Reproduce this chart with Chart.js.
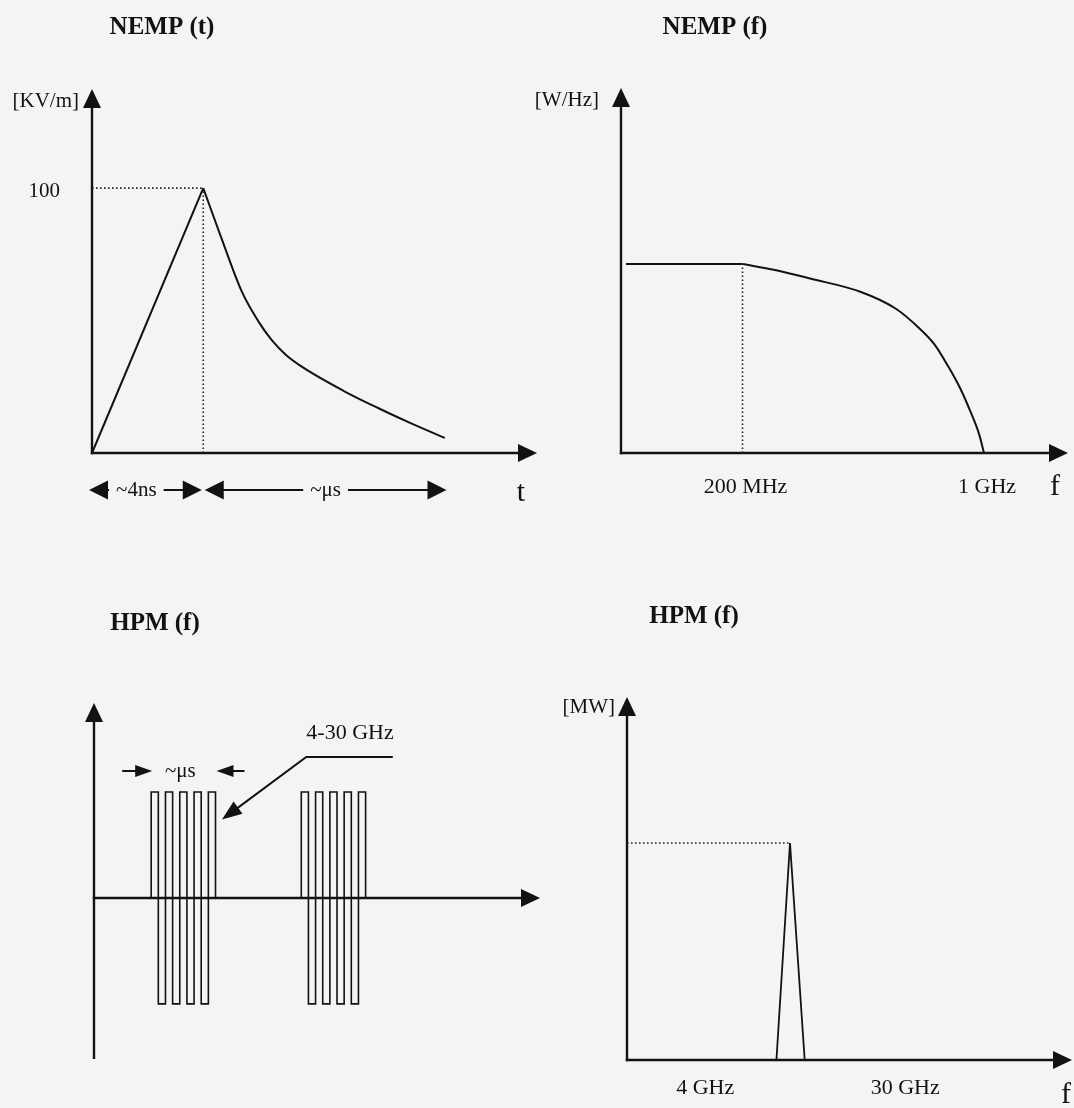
<!DOCTYPE html>
<html><head><meta charset="utf-8">
<script src="https://cdn.jsdelivr.net/npm/chart.js@4.4.1/dist/chart.umd.min.js"></script>
<style>
html,body{margin:0;padding:0;background:#f3f4f3;}
#wrap{position:relative;width:1074px;height:1108px;overflow:hidden;background:#f3f4f3;}
canvas{position:absolute;left:0;top:0;}
</style></head><body><div id="wrap">
<canvas id="c1" width="1074" height="1108"></canvas>
<canvas id="c2" width="1074" height="1108"></canvas>
<canvas id="c3" width="1074" height="1108"></canvas>
<canvas id="c4" width="1074" height="1108"></canvas>
</div>
<script>
// ===== DATA =====
// NEMP (t): field strength [kV/m] vs time (schematic units)
const nempTimeRise = [0, 25];
const nempFieldRise = [0, 100];
const nempTimeDecay = [25, 29, 33.7, 37.5, 40.4, 43.6, 47.4, 56.6, 64.5, 72.1, 79.3];
const nempFieldDecay = [100, 81.5, 60.8, 49.4, 42.6, 37, 32.3, 23.4, 16.8, 10.9, 5.7];
const nempTTicks = [100];
const nempTTickLabels = ['100'];
const nempTSpans = [[0, 25], [25, 80]];
const nempTSpanLabels = ['~4ns', '~\u03BCs'];

// NEMP (f): spectral density [W/Hz] vs frequency [MHz]
const nempFreqFlat = [92, 200];
const nempPsdFlat = [100, 100];
const nempFreqRoll = [200, 248.3, 313.7, 440.5, 556, 652.8, 721.2, 786.7, 852.3, 917, 967.2, 1000];
const nempPsdRoll = [100, 96.8, 92.3, 85.2, 76.3, 65.6, 57.1, 46, 34.4, 21.2, 10.1, 0];
const nempFTicks = [200, 1000];
const nempFTickLabels = ['200 MHz', '1 GHz'];

// HPM waveform: two bursts of alternating half-cycles
const hpmBurstStarts = [8, 29];
const hpmBurstLevels = [1, -1, 1, -1, 1, -1, 1, -1, 1];
const hpmBandLabel = '4-30 GHz';
const hpmPulseLabel = '~\u03BCs';

// HPM (f): power [MW] vs frequency [GHz]
const hpmFreq = [8.2, 9.4, 10.9];
const hpmPower = [0, 100, 0];
const hpmFTicks = [4, 30];
const hpmFTickLabels = ['4 GHz', '30 GHz'];

// ===== RENDERING =====
const W = 1074, H = 1108;
const FONT = "'Liberation Serif','Times New Roman',Times,serif";
const INK = '#121212';
const pts = (xs, ys) => xs.map((x, i) => ({x, y: ys[i]}));

function line(data, extra) {
  return Object.assign({data, borderColor: INK, borderWidth: 2, pointRadius: 0, fill: false,
    tension: 0, clip: false, borderJoinStyle: 'miter', borderCapStyle: 'butt'}, extra || {});
}
const dotted = {borderWidth: 1.6, borderDash: [1.6, 2.4], borderColor: '#222'};

function head(ctx, tx, ty, dx, dy, len, half) {
  const n = Math.hypot(dx, dy), ux = dx / n, uy = dy / n;
  const bx = tx - ux * len, by = ty - uy * len;
  ctx.beginPath(); ctx.moveTo(tx, ty);
  ctx.lineTo(bx - uy * half, by + ux * half);
  ctx.lineTo(bx + uy * half, by - ux * half);
  ctx.closePath(); ctx.fill();
}
function seg(ctx, x1, y1, x2, y2, w) {
  ctx.lineWidth = w || 2; ctx.beginPath(); ctx.moveTo(x1, y1); ctx.lineTo(x2, y2); ctx.stroke();
}
function txt(ctx, s, x, y, size, align, bold) {
  ctx.font = (bold ? 'bold ' : '') + size + 'px ' + FONT;
  ctx.textAlign = align || 'center'; ctx.textBaseline = 'middle'; ctx.fillStyle = INK;
  ctx.fillText(s, x, y);
}
function axes(chart, yAxisToBottom) {
  const {ctx, chartArea: a, scales: {y}} = chart;
  const x0 = a.left, y0 = Math.min(y.getPixelForValue(0), a.bottom);
  ctx.save(); ctx.strokeStyle = INK; ctx.fillStyle = INK;
  seg(ctx, x0, yAxisToBottom ? a.bottom : y0 + 1.2, x0, a.top + 12, 2.4);
  head(ctx, x0, a.top, 0, -1, 19, 9);
  seg(ctx, x0 - 1.2, y0, a.right - 12, y0, 2.4);
  head(ctx, a.right, y0, 1, 0, 19, 9);
  ctx.restore();
}

function makeChart(id, area, xs, ys, datasets, draw, yAxisToBottom) {
  return new Chart(document.getElementById(id), {
    type: 'line',
    data: {datasets},
    options: {
      responsive: false, animation: false, devicePixelRatio: 1, events: [],
      layout: {padding: {left: area[0], top: area[1], right: W - area[2], bottom: H - area[3]}},
      plugins: {legend: {display: false}, tooltip: {enabled: false}, title: {display: false}},
      scales: {
        x: Object.assign({type: 'linear', display: false}, xs),
        y: Object.assign({type: 'linear', display: false}, ys)
      }
    },
    plugins: [{
      id: 'decor',
      beforeDatasetsDraw(chart) { axes(chart, yAxisToBottom); },
      afterDraw(chart) {
        const {ctx} = chart; ctx.save(); ctx.strokeStyle = INK; ctx.fillStyle = INK;
        draw(chart); ctx.restore();
      }
    }]
  });
}

// ---- Panel 1: NEMP (t)
makeChart('c1', [92, 89, 537, 453], {min: 0, max: 100}, {min: 0, max: 137.4}, [
  line([{x: 0, y: nempFieldRise[1]}, {x: nempTimeRise[1], y: nempFieldRise[1]}], dotted),
  line([{x: nempTimeRise[1], y: 0}, {x: nempTimeRise[1], y: nempFieldRise[1]}], dotted),
  line(pts(nempTimeRise, nempFieldRise)),
  line(pts(nempTimeDecay, nempFieldDecay), {cubicInterpolationMode: 'monotone'})
], (chart) => {
  const {ctx, chartArea: a, scales: {x, y}} = chart;
  txt(ctx, 'NEMP (t)', 162, 28, 25, 'center', true);
  txt(ctx, '[KV/m]', a.left - 13, 101, 21, 'right');
  nempTTicks.forEach((v, i) => txt(ctx, nempTTickLabels[i], a.left - 32, y.getPixelForValue(v) + 3, 21, 'right'));
  txt(ctx, 't', 521, 493, 30);
  const sy = a.bottom + 37, shifts = [-9, 0];
  nempTSpans.forEach(([s, e], i) => {
    const ps = x.getPixelForValue(s) + (i === 0 ? -3 : 1.5), pe = x.getPixelForValue(e) - 1.5;
    head(ctx, ps, sy, -1, 0, 19, 9.5);
    head(ctx, pe, sy, 1, 0, 19, 9.5);
    ctx.font = '21px ' + FONT;
    const tw = ctx.measureText(nempTSpanLabels[i]).width;
    const cx = (ps + pe) / 2 + shifts[i];
    txt(ctx, nempTSpanLabels[i], cx, sy, 21);
    if (cx - tw / 2 - 7 > ps + 18) seg(ctx, ps + 18, sy, cx - tw / 2 - 7, sy, 2);
    if (pe - 18 > cx + tw / 2 + 7) seg(ctx, cx + tw / 2 + 7, sy, pe - 18, sy, 2);
  });
});

// ---- Panel 2: NEMP (f)
makeChart('c2', [621, 88, 1068, 453], {type: 'logarithmic', min: 89, max: 1750}, {min: 0, max: 193.1}, [
  line([{x: nempFreqFlat[1], y: 0}, {x: nempFreqFlat[1], y: nempPsdFlat[1]}], dotted),
  line(pts(nempFreqFlat, nempPsdFlat)),
  line(pts(nempFreqRoll, nempPsdRoll), {cubicInterpolationMode: 'monotone'})
], (chart) => {
  const {ctx, chartArea: a, scales: {x}} = chart;
  txt(ctx, 'NEMP (f)', 715, 28, 25, 'center', true);
  txt(ctx, '[W/Hz]', a.left - 22, 100, 21, 'right');
  nempFTicks.forEach((v, i) => txt(ctx, nempFTickLabels[i], x.getPixelForValue(v) + 3, a.bottom + 34, 22));
  txt(ctx, 'f', 1055, 487, 30);
});

// ---- Panel 3: HPM waveform
function burst(start) {
  const p = [{x: start, y: 0}];
  hpmBurstLevels.forEach((lv, i) => { p.push({x: start + i, y: lv}); p.push({x: start + i + 1, y: lv}); });
  p.push({x: start + hpmBurstLevels.length, y: 0});
  return p;
}
makeChart('c3', [94, 703, 540, 1059], {min: 0, max: 62.4}, {min: -1.52, max: 1.84},
  hpmBurstStarts.map(s => line(burst(s), {borderWidth: 1.6})),
  (chart) => {
    const {ctx, scales: {x, y}} = chart;
    txt(ctx, 'HPM (f)', 155, 624, 25, 'center', true);
    // pulse-length marker over first burst
    const b0 = x.getPixelForValue(hpmBurstStarts[0]), b1 = x.getPixelForValue(hpmBurstStarts[0] + hpmBurstLevels.length);
    const my = 771;
    seg(ctx, b0 - 29, my, b0 - 14, my, 2); head(ctx, b0 + 1, my, 1, 0, 17, 6);
    seg(ctx, b1 + 14, my, b1 + 29, my, 2); head(ctx, b1 + 1, my, -1, 0, 17, 6);
    txt(ctx, hpmPulseLabel, (b0 + b1) / 2 - 3, my, 21);
    // callout for carrier band
    const P = [[41.8, 1.33], [29.7, 1.33], [17.9, 0.74]].map(([u, v]) => [x.getPixelForValue(u), y.getPixelForValue(v)]);
    const dx = P[2][0] - P[1][0], dy = P[2][1] - P[1][1], n = Math.hypot(dx, dy);
    ctx.lineWidth = 2; ctx.beginPath(); ctx.moveTo(P[0][0], P[0][1]); ctx.lineTo(P[1][0], P[1][1]);
    ctx.lineTo(P[2][0] - dx / n * 15, P[2][1] - dy / n * 15); ctx.stroke();
    head(ctx, P[2][0], P[2][1], dx, dy, 20, 7.5);
    txt(ctx, hpmBandLabel, 350, 733, 22);
  }, true);

// ---- Panel 4: HPM (f)
makeChart('c4', [627, 697, 1072, 1060], {type: 'logarithmic', min: 1.82, max: 161}, {min: 0, max: 167.3}, [
  line([{x: 1.82, y: hpmPower[1]}, {x: hpmFreq[1], y: hpmPower[1]}], dotted),
  line(pts(hpmFreq, hpmPower), {borderWidth: 1.8})
], (chart) => {
  const {ctx, chartArea: a, scales: {x}} = chart;
  txt(ctx, 'HPM (f)', 694, 617, 25, 'center', true);
  txt(ctx, '[MW]', a.left - 12, 707, 21, 'right');
  hpmFTicks.forEach((v, i) => txt(ctx, hpmFTickLabels[i], x.getPixelForValue(v), a.bottom + 28, 22));
  txt(ctx, 'f', 1066, 1095, 30);
});
</script>
</body></html>
